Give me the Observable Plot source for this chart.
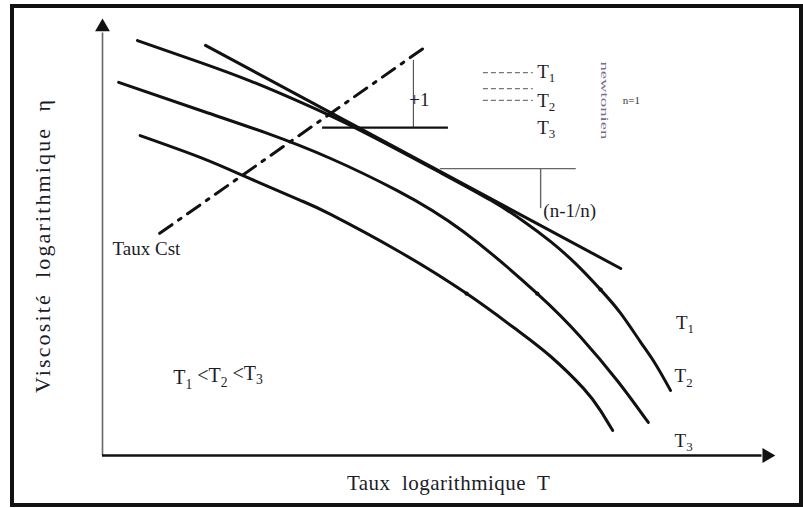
<!DOCTYPE html>
<html>
<head>
<meta charset="utf-8">
<script src="https://cdn.jsdelivr.net/npm/d3@7"></script>
<script src="https://cdn.jsdelivr.net/npm/@observablehq/plot@0.6"></script>
<style>
  body { margin: 0; background: #fff; }
  #wrap { position: relative; width: 803px; height: 508px; }
  #chart svg { position: absolute; left: 0; top: 0; }
  #border { position: absolute; left: 10px; top: 4px; width: 793px; height: 503px;
            box-sizing: border-box; border: 4px solid #111; pointer-events: none; }
</style>
</head>
<body>
<div id="wrap"><div id="chart"></div><div id="border"></div></div>
<script>
// Flow curves: log viscosity against log shear rate, at three temperatures (T1 < T2 < T3)
const rateT1 = [0.52, 1.46, 2.20, 2.94, 3.83, 5.02, 5.77, 6.26, 6.66, 7.03, 7.40, 7.70, 7.99, 8.22, 8.44];
const viscT1 = [9.43, 8.93, 8.51, 8.03, 7.39, 6.43, 5.80, 5.32, 4.86, 4.36, 3.77, 3.23, 2.59, 2.07, 1.48];
const rateT2 = [0.24, 1.46, 2.45, 3.39, 4.38, 5.36, 6.46, 7.10, 7.65, 8.11];
const viscT2 = [8.48, 7.84, 7.32, 6.75, 6.02, 5.09, 3.68, 2.70, 1.70, 0.75];
const rateT3 = [0.56, 1.46, 2.15, 2.94, 3.39, 4.38, 5.41, 6.17, 6.66, 7.15, 7.40, 7.58];
const viscT3 = [7.27, 6.77, 6.32, 5.80, 5.48, 4.66, 3.68, 2.84, 2.25, 1.52, 1.02, 0.57];

// Small notches on each curve
const notchRate = [7.40, 6.46, 5.41];
const notchVisc = [3.77, 3.68, 3.68];

// Power-law tangent to T1 and the constant-rate line
const tangentRate = [1.53, 7.70];
const tangentVisc = [9.32, 4.25];
const constRate = [0.85, 4.83];
const constVisc = [5.05, 9.32];

// Slope guides: "+1" step and "(n-1/n)" step
const stepUp = { x: 4.62, y1: 7.45, y2: 8.98, hx1: 3.27, hx2: 5.14 };
const stepDown = { x: 6.51, y1: 5.61, y2: 6.52, hx1: 5.02, hx2: 7.04 };

// Key: dashed strokes with temperature names
const keyDashY = [8.70, 8.34, 8.07];
const keyLabels = ["T₁", "T₂", "T₃"];
const keyLabelY = [8.72, 8.07, 7.45];

const curves = [
  ...rateT1.map((x, i) => ({ temp: "T1", x, y: viscT1[i] })),
  ...rateT2.map((x, i) => ({ temp: "T2", x, y: viscT2[i] })),
  ...rateT3.map((x, i) => ({ temp: "T3", x, y: viscT3[i] }))
];
const notches = notchRate.map((x, i) => ({ x, y: notchVisc[i] }));
const tangent = tangentRate.map((x, i) => ({ x, y: tangentVisc[i] }));
const constLine = constRate.map((x, i) => ({ x, y: constVisc[i] }));

const labels = [
  { x: 0.15, y: 4.70, text: "Taux Cst" },
  { x: 6.55, y: 5.57, text: "(n-1/n)" },
  { x: 8.52, y: 3.02, text: "T₁" },
  { x: 8.50, y: 1.80, text: "T₂" },
  { x: 8.50, y: 0.34, text: "T₃" },
  ...keyLabels.map((t, i) => ({ x: 6.46, y: keyLabelY[i], text: t }))
];

const arrowHeads = [
  { x: 0, y: 9.74, rotate: 0 },
  { x: 9.87, y: 0, rotate: 90 }
];

const xTitle = "Taux  logarithmique  T";
const yTitle = "Viscosité  logarithmique  η";

const chart = Plot.plot({
  width: 803,
  height: 508,
  marginLeft: 102,
  marginRight: 28,
  marginTop: 15,
  marginBottom: 53,
  x: { domain: [0, 10], axis: null },
  y: { domain: [0, 10], axis: null },
  style: { fontFamily: "Liberation Serif, Times New Roman, serif", background: "transparent", color: "#1c1c28" },
  marks: [
    // axes with filled arrow heads
    Plot.ruleX([0], { y1: 0, y2: 9.6, stroke: "#666", strokeWidth: 1.6 }),
    Plot.ruleY([0], { x1: 0, x2: 9.8, stroke: "#111", strokeWidth: 2.4 }),
    Plot.dot(arrowHeads, { x: "x", y: "y", rotate: "rotate", symbol: "triangle", r: 5.5, fill: "#111", stroke: "none" }),
    // constant-rate line
    Plot.line(constLine, { x: "x", y: "y", stroke: "#111", strokeWidth: 3, strokeDasharray: "15 8 3 8" }),
    // slope guides
    Plot.ruleX([stepUp], { x: "x", y1: "y1", y2: "y2", stroke: "#555", strokeWidth: 1.2 }),
    Plot.ruleY([stepUp], { y: "y1", x1: "hx1", x2: "hx2", stroke: "#111", strokeWidth: 2.2 }),
    Plot.ruleY([stepDown], { y: "y2", x1: "hx1", x2: "hx2", stroke: "#666", strokeWidth: 1.4 }),
    Plot.ruleX([stepDown], { x: "x", y1: "y1", y2: "y2", stroke: "#666", strokeWidth: 1.4 }),
    // flow curves and tangent
    Plot.line(curves, { x: "x", y: "y", z: "temp", curve: "natural", stroke: "#111", strokeWidth: 3 }),
    Plot.line(tangent, { x: "x", y: "y", stroke: "#111", strokeWidth: 3 }),
    Plot.dot(notches, { x: "x", y: "y", r: 2.2, fill: "#111", stroke: "none" }),
    // key
    Plot.ruleY(keyDashY, { x1: 5.66, x2: 6.40, stroke: "#777", strokeWidth: 1.3, strokeDasharray: "5 3" }),
    Plot.text(["newtonien"], { x: 7.46, y: 8.07, rotate: 90, fontSize: 11, fill: "#7a6a8a" }),
    Plot.text(["n=1"], { x: 7.73, y: 8.07, textAnchor: "start", fontSize: 11, fill: "#333" }),
    // labels
    Plot.text(["+1"], { x: 4.71, y: 8.09, fontSize: 19 }),
    Plot.text(labels, { x: "x", y: "y", text: "text", textAnchor: "start", fontSize: 19 }),
    Plot.text(["T₁ <T₂ <T₃"], { x: 1.05, y: 1.77, textAnchor: "start", fontSize: 20 }),
    // axis titles
    Plot.text([xTitle], { x: 5.14, y: -0.64, fontSize: 21 }),
    Plot.text([yTitle], { x: -0.88, y: 4.75, rotate: -90, fontSize: 22 })
  ]
});

const svg = d3.select(chart);

// Render subscript digits as lowered, smaller text
const subs = { "₁": "1", "₂": "2", "₃": "3" };
svg.selectAll("text").each(function () {
  const s = this.textContent;
  if (!/[₁₂₃]/.test(s)) return;
  const el = d3.select(this);
  el.text(null);
  let lowered = false;
  let run = "";
  const flush = () => {
    if (!run) return;
    const t = el.append("tspan").text(run);
    if (lowered) { t.attr("dy", "-0.35em"); lowered = false; }
    run = "";
  };
  for (const ch of s) {
    if (subs[ch]) {
      flush();
      el.append("tspan").attr("font-size", "0.68em").attr("dy", "0.35em").text(subs[ch]);
      lowered = true;
    } else {
      run += ch;
    }
  }
  flush();
});

// Stretch the axis titles to their set lengths
svg.selectAll("text").each(function () {
  const s = this.textContent;
  if (s === xTitle) d3.select(this).attr("textLength", 203).attr("lengthAdjust", "spacing");
  if (s === yTitle) d3.select(this).attr("textLength", 293).attr("lengthAdjust", "spacing");
  if (s === "newtonien") d3.select(this).attr("textLength", 78).attr("lengthAdjust", "spacingAndGlyphs");
});
svg.selectAll("text").attr("xml:space", "preserve").style("white-space", "pre");

document.getElementById("chart").append(chart);
</script>
</body>
</html>
